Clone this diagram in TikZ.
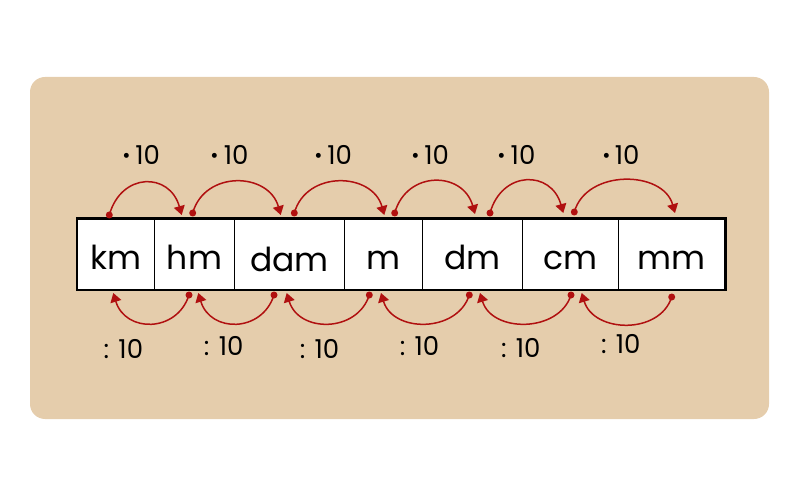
\documentclass[tikz,border=0pt]{standalone}
\usepackage{fontspec}
\setmainfont{Poppins}
\usetikzlibrary{arrows.meta}
\definecolor{bgtan}{RGB}{229,205,172}
\definecolor{arrred}{RGB}{176,16,16}
\newcommand{\bigdot}{\raisebox{-5pt}{\fontsize{40}{40}\selectfont·}}
\tikzset{
  cell/.style={draw=black, line width=1pt, fill=white, inner sep=0pt,
    minimum height=70.5pt, font=\fontsize{33}{33}\selectfont,
    text height=50.5pt, text depth=19.9pt},
  conn/.style={draw=arrred, line width=1.5pt, -{Triangle[width=11pt,length=9pt]}},
  dotmark/.style={fill=arrred},
  lbl/.style={anchor=base, inner sep=0pt, font=\fontsize{26}{26}\selectfont}
}
\begin{document}
\begin{tikzpicture}[x=1pt,y=-1pt]
\useasboundingbox (0,0) rectangle (800,486);
\fill[bgtan, rounded corners=15pt] (30,77) rectangle (769,419);
% cells
\node[cell, minimum width=77pt]   (km)  at (115.8,254.25) {km};
\node[cell, minimum width=80.4pt] (hm)  at (194.5,254.25) {hm};
\node[cell, minimum width=109.3pt, text height=52pt, text depth=18.4pt] (dam) at (289.35,254.25) {dam};
\node[cell, minimum width=78.7pt] (m)   at (383.35,254.25) {m};
\node[cell, minimum width=99.3pt] (dm)  at (472.35,254.25) {dm};
\node[cell, minimum width=96.3pt] (cm)  at (570.15,254.25) {cm};
\node[cell, minimum width=106.7pt] (mm) at (671.65,254.25) {mm};
\draw[line width=2.3pt] (km.north west) rectangle (mm.south east);
% top coordinates
\coordinate (ts1) at (109.3,215); \coordinate (te1) at (181.7,215);
\coordinate (ts2) at (192.7,213); \coordinate (te2) at (280.7,215);
\coordinate (ts3) at (294.3,213); \coordinate (te3) at (384.3,215);
\coordinate (ts4) at (394.7,213); \coordinate (te4) at (475,214);
\coordinate (ts5) at (490,213);   \coordinate (te5) at (563.3,213);
\coordinate (ts6) at (574.3,212); \coordinate (te6) at (675,213);
% bottom coordinates
\coordinate (bs1) at (189,295);   \coordinate (be1) at (113.3,293);
\coordinate (bs2) at (274,295);   \coordinate (be2) at (198.3,293);
\coordinate (bs3) at (369.3,295); \coordinate (be3) at (286.7,293);
\coordinate (bs4) at (469.3,295); \coordinate (be4) at (381,293);
\coordinate (bs5) at (571,295);   \coordinate (be5) at (480,293);
\coordinate (bs6) at (671.7,297); \coordinate (be6) at (581.7,293);
% top arrows
\foreach \i in {1,...,6}{
  \draw[conn] (ts\i) .. controls +(12,-43) and +(-12,-43) .. (te\i);
  \fill[dotmark] (ts\i) circle (3.5pt);
}
% bottom arrows
\foreach \i in {1,...,6}{
  \draw[conn] (bs\i) .. controls +(-12,38) and +(12,40) .. (be\i);
  \fill[dotmark] (bs\i) circle (3.5pt);
}
% top labels
\node[lbl] (tl1) at (141.3,165) {\bigdot\,10};
\node[lbl] (tl2) at (229.7,165) {\bigdot\,10};
\node[lbl] (tl3) at (333.3,165) {\bigdot\,10};
\node[lbl] (tl4) at (430.3,165) {\bigdot\,10};
\node[lbl] (tl5) at (516.6,165) {\bigdot\,10};
\node[lbl] (tl6) at (620.8,165) {\bigdot\,10};
% bottom labels
\node[lbl] (bl1) at (123.4,358) {: 10};
\node[lbl] (bl2) at (223.7,355.7) {: 10};
\node[lbl] (bl3) at (319.5,358) {: 10};
\node[lbl] (bl4) at (419.6,355.7) {: 10};
\node[lbl] (bl5) at (520.8,357.3) {: 10};
\node[lbl] (bl6) at (620.8,353.3) {: 10};
\end{tikzpicture}
\end{document}
